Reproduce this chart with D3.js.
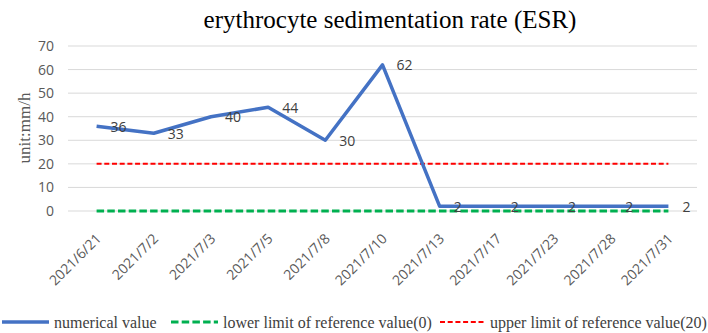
<!DOCTYPE html>
<html>
<head>
<meta charset="utf-8">
<script src="https://cdn.jsdelivr.net/npm/d3@7"></script>
<style>
  body { margin: 0; background: #fff; }
</style>
</head>
<body>
<svg id="chart" width="708" height="333"></svg>
<script>
const dates = ['2021/6/21', '2021/7/2', '2021/7/3', '2021/7/5', '2021/7/8', '2021/7/10',
    '2021/7/13', '2021/7/17', '2021/7/23', '2021/7/28', '2021/7/31']
const esrValues = [36, 33, 40, 44, 30, 62, 2, 2, 2, 2, 2]
const lowerLimit = dates.map(() => 0)
const upperLimit = dates.map(() => 20)
const yTicks = [0, 10, 20, 30, 40, 50, 60, 70]

const svg = d3.select('#chart')
const margin = { left: 68, right: 11, top: 46, bottom: 122 }
const width = 708 - margin.left - margin.right
const height = 333 - margin.top - margin.bottom

const x = d3.scaleBand().domain(dates).range([0, width])
const y = d3.scaleLinear().domain([0, 70]).range([height, 0])
const cx = d => x(d) + x.bandwidth() / 2

const g = svg.append('g')
    .attr('transform', 'translate(' + margin.left + ',' + margin.top + ')')

// title
svg.append('text')
    .attr('x', 390)
    .attr('y', 28)
    .attr('text-anchor', 'middle')
    .style('font-family', 'Liberation Serif, serif')
    .style('font-size', '25px')
    .attr('fill', '#000')
    .text('erythrocyte sedimentation rate (ESR)')

// gridlines
g.append('g')
    .selectAll('line')
    .data(yTicks)
    .enter().append('line')
    .attr('x1', 0)
    .attr('x2', width)
    .attr('y1', d => y(d))
    .attr('y2', d => y(d))
    .attr('stroke', '#d9d9d9')
    .attr('stroke-width', 1)

// y axis labels
const yAxis = g.append('g')
    .call(d3.axisLeft(y).tickValues(yTicks).tickSize(0).tickPadding(14))
yAxis.select('.domain').remove()
yAxis.selectAll('text')
    .style('font-family', 'Open Sans, sans-serif')
    .style('font-size', '14px')
    .attr('fill', '#595959')

svg.append('text')
    .attr('transform', 'translate(30,' + 128 + ') rotate(-90)')
    .attr('text-anchor', 'middle')
    .style('font-family', 'Liberation Serif, serif')
    .style('font-size', '17px')
    .attr('fill', '#595959')
    .text('unit:mm/h')

// x axis labels
const xAxis = g.append('g')
    .attr('transform', 'translate(0,' + height + ')')
    .call(d3.axisBottom(x).tickSize(0).tickPadding(0))
xAxis.select('.domain').remove()
xAxis.selectAll('text')
    .style('font-family', 'Open Sans, sans-serif')
    .style('font-size', '14px')
    .attr('fill', '#595959')
    .attr('text-anchor', 'end')
    .attr('dy', '0.35em')
    .attr('transform', 'translate(2,25) rotate(-45)')

// reference lines
const line = d3.line().x((d, i) => cx(dates[i])).y(d => y(d))

g.append('path')
    .datum(upperLimit)
    .attr('d', line)
    .attr('fill', 'none')
    .attr('stroke', '#ff0000')
    .attr('stroke-width', 2)
    .attr('stroke-dasharray', '5,2.7')

g.append('path')
    .datum(lowerLimit)
    .attr('d', line)
    .attr('fill', 'none')
    .attr('stroke', '#00b050')
    .attr('stroke-width', 3)
    .attr('stroke-dasharray', '7.5,3.2')

g.append('path')
    .datum(esrValues)
    .attr('d', line)
    .attr('fill', 'none')
    .attr('stroke', '#4472c4')
    .attr('stroke-width', 3.5)
    .attr('stroke-linejoin', 'round')

// data labels
g.append('g')
    .selectAll('text')
    .data(esrValues)
    .enter().append('text')
    .attr('x', (d, i) => cx(dates[i]) + 14)
    .attr('y', d => y(d))
    .attr('dy', '0.4em')
    .style('font-family', 'Open Sans, sans-serif')
    .style('font-size', '14px')
    .attr('fill', '#404040')
    .text(d => d)

// legend
const legendItems = [
    { name: 'numerical value', color: '#4472c4', width: 3.5, dash: null, x1: 2, x2: 49 },
    { name: 'lower limit of reference value(0)', color: '#00b050', width: 3, dash: '7.5,3.2', x1: 171, x2: 218 },
    { name: 'upper limit of reference value(20)', color: '#ff0000', width: 2, dash: '5,2.7', x1: 440, x2: 485 }
]
const legend = svg.append('g').attr('transform', 'translate(0,322)')
const li = legend.selectAll('g').data(legendItems).enter().append('g')
li.append('line')
    .attr('x1', d => d.x1)
    .attr('x2', d => d.x2)
    .attr('stroke', d => d.color)
    .attr('stroke-width', d => d.width)
    .attr('stroke-dasharray', d => d.dash)
li.append('text')
    .attr('x', d => d.x2 + 5)
    .attr('dy', '0.35em')
    .style('font-family', 'Liberation Serif, serif')
    .style('font-size', '16px')
    .attr('fill', '#404040')
    .text(d => d.name)
</script>
</body>
</html>
